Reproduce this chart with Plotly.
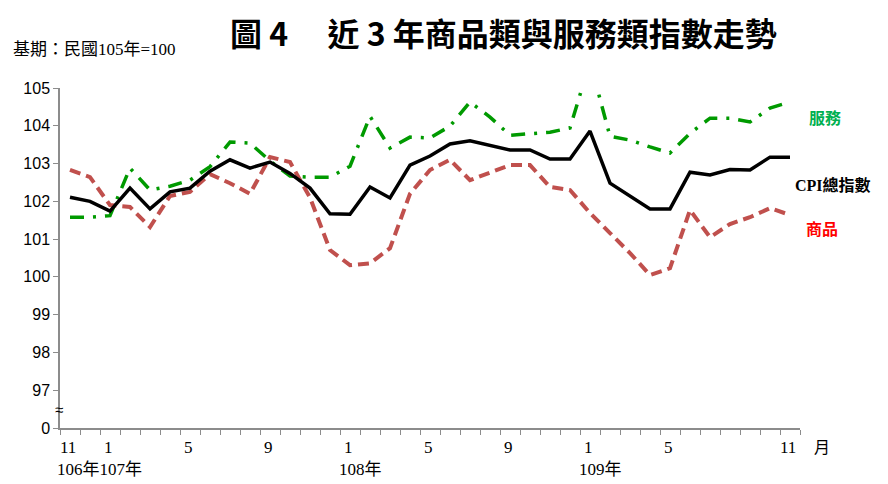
import plotly.graph_objects as go

# Months from 106/11 to 109/11
month_nums = [11, 12] + list(range(1, 13)) + list(range(1, 13)) + list(range(1, 12))
x_idx = list(range(len(month_nums)))

cpi = [102.11, 102.00, 101.74, 102.35, 101.80, 102.25, 102.35, 102.80, 103.10, 102.88,
       103.04, 102.74, 102.35, 101.67, 101.66, 102.38, 102.09, 102.96, 103.20, 103.52,
       103.60, 103.49, 103.36, 103.36, 103.12, 103.12, 103.86, 102.48, 102.14, 101.80,
       101.80, 102.77, 102.70, 102.84, 102.83, 103.17, 103.17]

goods = [102.83, 102.64, 101.90, 101.85, 101.32, 102.14, 102.25, 102.72, 102.48, 102.20,
         103.17, 103.04, 102.10, 100.71, 100.31, 100.36, 100.76, 102.20, 102.83, 103.10,
         102.56, 102.75, 102.96, 102.96, 102.38, 102.30, 101.69, 101.16, 100.63, 100.05,
         100.23, 101.77, 101.05, 101.40, 101.58, 101.82, 101.64]

services = [101.58, 101.58, 101.62, 102.88, 102.30, 102.40, 102.56, 102.92, 103.57, 103.54,
            103.07, 102.67, 102.64, 102.64, 102.93, 104.25, 103.41, 103.70, 103.68, 103.99,
            104.63, 104.23, 103.75, 103.78, 103.83, 103.94, 105.70, 103.72, 103.62, 103.44,
            103.28, 103.80, 104.20, 104.20, 104.10, 104.47, 104.63]

y_ticks = [96, 97, 98, 99, 100, 101, 102, 103, 104, 105]
y_ticktext = ["0", "97", "98", "99", "100", "101", "102", "103", "104", "105"]

label_months = {0: "11", 2: "1", 6: "5", 10: "9", 14: "1", 18: "5", 22: "9", 26: "1", 30: "5", 36: "11"}
year_labels = [(-0.5, -5, "106年107年"), (14, -13, "108年"), (26, -13, "109年")]

GREEN = "#009A00"
RED = "#C0504D"

fig = go.Figure()
fig.add_trace(go.Scatter(x=x_idx, y=services, mode="lines", name="服務",
                         line=dict(color=GREEN, width=3.5, dash="14px,9px,3px,9px")))
fig.add_trace(go.Scatter(x=x_idx, y=goods, mode="lines", name="商品",
                         line=dict(color=RED, width=4, dash="11px,6px")))
fig.add_trace(go.Scatter(x=x_idx, y=cpi, mode="lines", name="CPI總指數",
                         line=dict(color="black", width=3.5)))

annotations = []
serif = "Liberation Serif, Noto Sans CJK TC"
for i, t in label_months.items():
    annotations.append(dict(x=i, y=0, xref="x", yref="paper", text=t, showarrow=False,
                            yanchor="middle", yshift=-19, xshift=-2,
                            font=dict(family=serif, size=17, color="black")))
for xv, xs, t in year_labels:
    annotations.append(dict(x=xv, y=0, xref="x", yref="paper", text=t, showarrow=False,
                            xanchor="left", yanchor="middle", yshift=-41, xshift=xs,
                            font=dict(family=serif, size=17, color="black")))
annotations.append(dict(x=1.03, y=0, xref="paper", yref="paper", text="月", showarrow=False,
                        xanchor="center", yanchor="middle", yshift=-19,
                        font=dict(family=serif, size=16, color="black")))
annotations.append(dict(x=0, y=96.5, xref="paper", yref="y", text="≈", showarrow=False,
                        xanchor="center", yanchor="middle", xshift=-1,
                        font=dict(family="Liberation Sans", size=15, color="black")))
# series labels
annotations.append(dict(x=1.034, y=104.23, xref="paper", yref="y", text="<b>服務</b>", showarrow=False,
                        xanchor="center", font=dict(family="Noto Sans CJK TC", size=16, color="#00B050")))
annotations.append(dict(x=1.045, y=102.43, xref="paper", yref="y", text="<b>CPI總指數</b>", showarrow=False,
                        xanchor="center", font=dict(family=serif, size=16, color="black")))
annotations.append(dict(x=1.030, y=101.29, xref="paper", yref="y", text="<b>商品</b>", showarrow=False,
                        xanchor="center", font=dict(family="Noto Sans CJK TC", size=16, color="#FF0000")))
# title and base note
annotations.append(dict(x=0.599, y=1.166, xref="paper", yref="paper",
                        text="<b>圖 4　 近 3 年商品類與服務類指數走勢</b>", showarrow=False,
                        xanchor="center", yanchor="middle",
                        font=dict(family="Noto Sans CJK TC", size=32, color="black")))
annotations.append(dict(x=-0.066, y=1.112, xref="paper", yref="paper",
                        text="基期：民國105年=100", showarrow=False,
                        xanchor="left", yanchor="middle",
                        font=dict(family=serif, size=17, color="black")))

fig.update_layout(
    width=880, height=476,
    margin=dict(l=52, r=88, t=80, b=56),
    paper_bgcolor="white", plot_bgcolor="white",
    showlegend=False,
    annotations=annotations,
    xaxis=dict(range=[-0.5, 36.5], showgrid=False, zeroline=False,
               showline=True, linecolor="#8c8c8c", linewidth=1.5,
               tickmode="array", tickvals=[i - 0.5 for i in range(38)],
               ticktext=["" for _ in range(38)],
               ticks="outside", ticklen=5, tickcolor="#8c8c8c", tickwidth=1),
    yaxis=dict(range=[96, 105], showgrid=False, zeroline=False,
               showline=True, linecolor="#8c8c8c", linewidth=1.5,
               tickmode="array", tickvals=y_ticks, ticktext=y_ticktext,
               ticks="outside", ticklen=5, tickcolor="#8c8c8c",
               tickfont=dict(family="Liberation Sans", size=16, color="black")),
)

fig.write_html("out.html")
